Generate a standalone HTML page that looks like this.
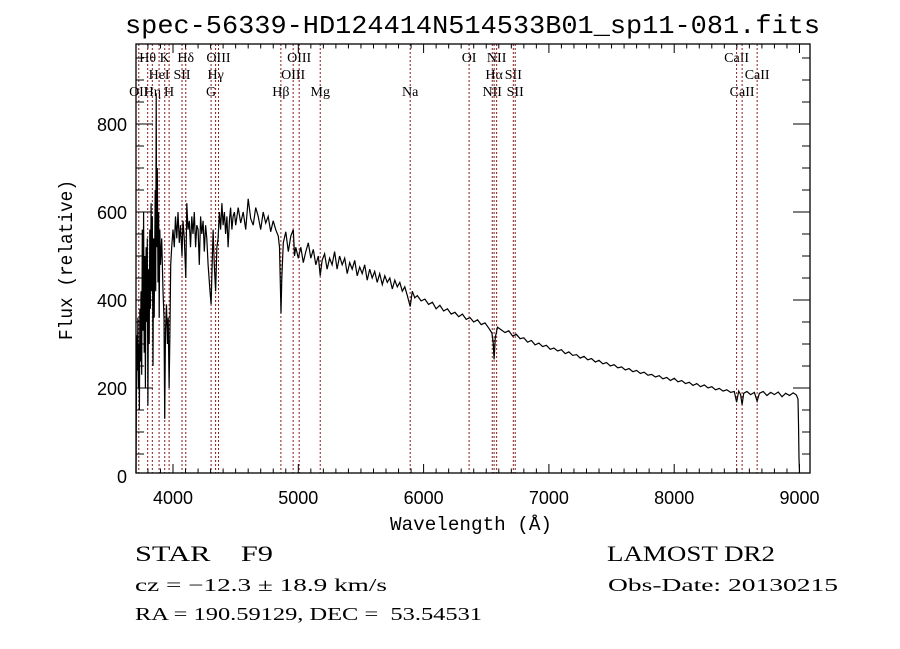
<!DOCTYPE html>
<html><head><meta charset="utf-8"><style>
html,body{margin:0;padding:0;background:#fff;}
svg{display:block;}
text{font-family:"Liberation Serif",serif;fill:#000;white-space:pre;}
.mono{font-family:"Liberation Mono",monospace;}
.sans{font-family:"Liberation Sans",sans-serif;}
</style></head><body>
<svg id="chart" width="900" height="649" viewBox="0 0 900 649" xmlns="http://www.w3.org/2000/svg" xml:space="preserve">
<rect width="900" height="649" fill="#fff"/>
<text class="mono" x="125" y="33" font-size="26" textLength="695" lengthAdjust="spacingAndGlyphs">spec-56339-HD124414N514533B01_sp11-081.fits</text>
<g id="lines"></g>
<g id="axes"></g>
<path id="spec" fill="none" stroke="#000" stroke-width="1.2"/>
<text class="mono" x="390" y="530" font-size="19" textLength="162" lengthAdjust="spacingAndGlyphs">Wavelength (Å)</text>
<text class="mono" font-size="19" transform="translate(72,340) rotate(-90)" textLength="160" lengthAdjust="spacingAndGlyphs">Flux (relative)</text>
<text x="135" y="561" font-size="22" textLength="138" lengthAdjust="spacingAndGlyphs">STAR    F9</text>
<text x="135" y="591" font-size="18" textLength="252" lengthAdjust="spacingAndGlyphs">cz = −12.3 ± 18.9 km/s</text>
<text x="135" y="620" font-size="18" textLength="347" lengthAdjust="spacingAndGlyphs">RA = 190.59129, DEC =  53.54531</text>
<text x="607" y="561" font-size="22" textLength="168" lengthAdjust="spacingAndGlyphs">LAMOST DR2</text>
<text x="608" y="591" font-size="18" textLength="230" lengthAdjust="spacingAndGlyphs">Obs-Date: 20130215</text>
</svg>
<script>
const wl=[3705,3708,3712,3716,3720,3724,3728,3732,3736,3740,3745,3750,3755,3760,3765,3770,3775,3780,3785,3790,3795,3800,3805,3810,3815,3820,3825,3830,3835,3840,3845,3850,3858,3862,3866,3870,3875,3880,3885,3890,3895,3900,3910,3920,3928,3934,3940,3948,3955,3962,3969,3975,3982,3990,4000,4010,4020,4030,4040,4050,4060,4072,4080,4090,4102,4110,4120,4130,4140,4150,4160,4170,4180,4190,4200,4210,4220,4230,4240,4250,4260,4270,4280,4295,4304,4310,4320,4330,4340,4350,4360,4370,4380,4390,4400,4410,4420,4430,4440,4450,4460,4470,4480,4490,
4500,4520,4540,4560,4580,4600,4620,4640,4660,4680,4700,4720,4740,4760,4780,4800,4820,4840,4850,4856,4862,4868,4880,4900,4920,4940,4960,4970,4980,5000,5020,5040,5060,5080,5100,5120,5140,5160,5175,5190,5210,5230,5250,5270,5290,5310,5330,5350,5370,5390,5410,5430,5450,5470,5490,5510,5530,5550,5570,5590,5610,5630,5650,5670,5690,5710,5730,5750,5770,5790,5810,5830,5850,5870,5893,5910,5930,
5950,5980,6010,6040,6070,6100,6130,6160,6190,6220,6250,6280,6310,6340,6370,6400,6430,6460,6490,6520,6545,6555,6563,6572,6590,6620,6650,6680,6710,6740,6770,6800,6830,6860,6890,6920,6950,6980,7010,7040,7070,7100,7130,7160,7190,7220,7250,7280,7310,7340,7370,7400,7430,7460,7490,7520,7550,7580,7610,7640,7670,7700,7730,7760,7790,7820,7850,7880,7910,7940,7970,8000,8030,8060,8090,8120,8150,8180,8210,8240,8270,8300,8330,8360,8390,8420,8450,8480,8498,8515,8530,8542,8555,8580,8610,8640,8662,8680,8710,8740,8770,8800,8830,8860,8890,8920,8950,8975,8988,8992,8996,9000];
const flux=[0,180,320,240,360,200,300,150,380,260,420,230,560,330,600,280,500,200,520,350,540,160,470,300,560,380,620,420,590,250,540,360,650,420,870,520,700,440,600,360,560,480,540,420,360,130,330,390,300,360,200,320,480,520,560,520,590,540,600,530,570,500,580,540,450,620,560,580,520,590,550,600,520,570,560,480,590,550,580,510,570,540,480,420,390,450,560,480,420,520,540,600,560,620,570,600,550,590,520,580,610,560,590,600,
570,610,575,600,560,630,585,570,610,590,560,600,575,590,555,580,560,545,520,440,370,450,530,555,510,545,560,500,520,495,520,485,510,530,495,515,480,500,455,490,505,470,495,480,510,470,500,480,495,460,485,470,490,455,475,460,480,445,470,450,465,440,460,435,455,440,450,425,445,430,440,420,430,410,385,420,405,
410,398,402,390,395,380,388,375,380,368,372,362,368,356,360,350,355,344,348,336,325,305,265,315,338,332,326,330,318,322,312,314,304,308,298,302,294,297,288,291,284,287,278,282,274,276,268,272,264,267,259,263,255,258,250,253,246,248,241,244,237,240,233,236,229,231,225,228,221,224,217,222,214,217,210,213,206,210,203,207,200,203,196,199,193,196,190,192,168,193,185,162,188,192,185,190,170,188,192,183,190,185,191,180,188,183,189,184,175,120,40,0];
const xTicks=[4000,5000,6000,7000,8000,9000];
const yTicks=[0,200,400,600,800];
const lineWl=[3727,3798,3835,3889,3934,3969,4072,4102,4304,4340,4363,4861,4959,5007,5175,5893,6363,6548,6563,6583,6716,6731,8498,8542,8662];
const lineName=["OII","Hθ","Hη","HeI","K","H","SII","Hδ","G","Hγ","OIII","Hβ","OIII","OIII","Mg","Na","OI","NII","Hα","NII","SII","SII","CaII","CaII","CaII"];
const lineRow=[2,0,2,1,0,2,1,0,2,1,0,2,1,0,2,2,0,2,1,0,1,2,0,2,1];

const X0=136,X1=810,Y0=44,Y1=473;
const xs=l=>173+(l-4000)*0.1253;
const ys=v=>476-v*0.44;
const NS="http://www.w3.org/2000/svg";
function mk(tag,attrs,parent){const e=document.createElementNS(NS,tag);for(const k in attrs)e.setAttribute(k,attrs[k]);parent.appendChild(e);return e;}

const lg=document.getElementById('lines');
lineWl.forEach((l,i)=>{
  const x=xs(l);
  const ln=mk('line',{x1:x,x2:x,y1:Y0,y2:Y1,stroke:'#8b1a1a','stroke-width':1,'stroke-dasharray':'2,2'},lg);
  
  
  const t=mk('text',{x:x,y:62+lineRow[i]*17,'font-size':14,'text-anchor':'middle'},lg);
  t.textContent=lineName[i];
  
  
});

let d='';
wl.forEach((l,i)=>{d+=(i?'L':'M')+xs(l).toFixed(1)+','+Math.min(Y1,ys(flux[i])).toFixed(1);});
document.getElementById('spec').setAttribute('d',d);

const ag=document.getElementById('axes');
const fr=mk('rect',{x:X0,y:Y0,width:X1-X0,height:Y1-Y0,fill:'none',stroke:'#000','stroke-width':1.3},ag);


for(let l=3800;l<=9000;l+=100){
  const x=xs(l);if(x<X0||x>X1)continue;
  const major=l%1000===0;const len=major?9:4.5;
  mk('line',{x1:x,x2:x,y1:Y1,y2:Y1-len,stroke:'#000'},ag);
  mk('line',{x1:x,x2:x,y1:Y0,y2:Y0+len,stroke:'#000'},ag);
}
for(let v=0;v<=950;v+=50){
  const y=ys(v);if(y<Y0||y>Y1)continue;
  const major=v%200===0;const len=major?17:8;
  mk('line',{x1:X0,x2:X0+len,y1:y,y2:y,stroke:'#000'},ag);
  mk('line',{x1:X1,x2:X1-len,y1:y,y2:y,stroke:'#000'},ag);
}
xTicks.forEach(l=>{
  const t=mk('text',{x:xs(l),y:504,'font-size':18,'text-anchor':'middle',class:'sans'},ag);
  t.textContent=l;
  
  
});
yTicks.forEach(v=>{
  const t=mk('text',{x:127,y:ys(v)+7,'font-size':18,'text-anchor':'end',class:'sans'},ag);
  t.textContent=v;
  
  
});
</script>
</body></html>
